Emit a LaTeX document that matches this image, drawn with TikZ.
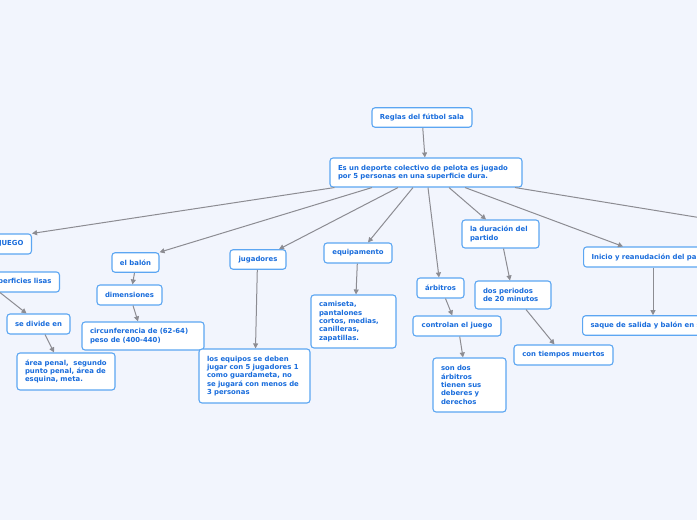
\documentclass[tikz,border=0pt]{standalone}
\usepackage{fontspec}
\setmainfont{DejaVu Sans}
\usetikzlibrary{arrows.meta, positioning}
\definecolor{bgblue} {RGB}{242,245,253}
\definecolor{bordblue}{RGB}{92,166,242}
\definecolor{txtblue} {RGB}{24,108,220}
\definecolor{argray} {RGB}{140,140,146}

\tikzset{
  topic/.style={draw=bordblue, fill=white, rounded corners=3pt, line width=1.1pt,
                text=txtblue, font=\bfseries\fontsize{6.9}{8.3}\selectfont,
                inner xsep=0pt, inner ysep=0pt},
  note/.style={topic, align=left, inner xsep=8pt},
  link/.style={draw=argray, line width=1pt, -{Triangle[length=5pt, width=5pt]}}
}

\begin{document}
\begin{tikzpicture}[x=1pt, y=-1pt]
  \useasboundingbox (0,0) rectangle (697,520);
  \fill[bgblue] (0,0) rectangle (697,520);
  \clip (0,0) rectangle (697,520);

  % root and summary
  \node[topic, minimum width=100, minimum height=19.5] (regla) at (422,117.5) {Reglas del fútbol sala};
  \node[note, text width=176, minimum height=29] (deporte) at (426,172.5)
    {Es un deporte colectivo de pelota es jugado\\por 5 personas en una superficie dura.};

  % left branches
  \node[note, align=right, text width=54, minimum height=20, anchor=east] (juego) at (32,244) {JUEGO};
  \node[note, align=right, text width=80, minimum height=20, anchor=east] (superf) at (60,282) {superficies lisas};
  \node[topic, minimum width=63, minimum height=20] (divide) at (38.5,324) {se divide en};
  \node[note, text width=82, minimum height=37] (area) at (66,371.5)
    {área penal,~ segundo\\punto penal, área de\\esquina, meta.};

  \node[topic, minimum width=47, minimum height=19.5] (balon) at (135.5,262.5) {el balón};
  \node[topic, minimum width=65, minimum height=20] (dimens) at (129.5,295) {dimensiones};
  \node[note, text width=106, minimum height=28] (circunf) at (143,336)
    {circunferencia de (62-64)\\peso de (400-440)};

  \node[topic, minimum width=56, minimum height=19.5] (jugad) at (258,259.5) {jugadores};
  \node[note, text width=95, minimum height=54] (equipos) at (254.5,376)
    {los equipos se deben\\jugar con 5 jugadores 1\\como guardameta, no\\se jugará con menos de\\3 personas};

  \node[topic, minimum width=68, minimum height=20] (equipam) at (358,253) {equipamento};
  \node[note, text width=69, minimum height=53] (camiseta) at (353.5,321.5)
    {camiseta,\\pantalones\\cortos, medias,\\canilleras,\\zapatillas.};

  % right branches
  \node[topic, minimum width=47, minimum height=20] (arbitros) at (440.5,288) {árbitros};
  \node[topic, minimum width=88, minimum height=20] (control) at (457,326) {controlan el juego};
  \node[note, text width=57, minimum height=54] (sondos) at (469.5,385)
    {son dos\\árbitros\\tienen sus\\deberes y\\derechos};

  \node[note, text width=61, minimum height=28] (duracion) at (500.5,234) {la duración del\\partido};
  \node[note, text width=60, minimum height=28] (periodos) at (513,295) {dos periodos\\de 20 minutos};
  \node[topic, minimum width=99, minimum height=20] (tiempos) at (563.5,355) {con tiempos muertos};

  \node[note, minimum height=20, anchor=west] (inicio) at (583,257) {Inicio y reanudación del partido};
  \node[note, minimum height=19.5, anchor=west] (saque) at (582,325.5) {saque de salida y balón en suelo};
  \coordinate (fuera) at (760,227.5);

  % connectors
  \draw[link] (regla) -- (deporte);
  \draw[link] ([xshift=5]deporte.south west) -- (juego.north east);
  \draw[link] ([xshift=-54]deporte.south) -- (balon.north east);
  \draw[link] ([xshift=-28]deporte.south) -- ([xshift=21]jugad.north);
  \draw[link] ([xshift=-13]deporte.south) -- ([xshift=10]equipam.north);
  \draw[link] ([xshift=2]deporte.south) -- ([xshift=-1.5]arbitros.north);
  \draw[link] ([xshift=23]deporte.south) -- ([xshift=-14.5]duracion.north);
  \draw[link] ([xshift=39]deporte.south) -- ([xshift=40]inicio.north west);
  \draw[link] ([xshift=89]deporte.south) -- (fuera);

  \draw[link] ([xshift=-60]superf.south east) -- ([xshift=-12]divide.north);
  \draw[link] ([xshift=6.5]divide.south) -- ([xshift=-12]area.north);
  \draw[link] ([xshift=-1]balon.south) -- ([xshift=3]dimens.north);
  \draw[link] ([xshift=3.5]dimens.south) -- ([xshift=-5]circunf.north);
  \draw[link] ([xshift=-0.7]jugad.south) -- ([xshift=1]equipos.north);
  \draw[link] ([xshift=-0.7]equipam.south) -- ([xshift=2.5]camiseta.north);
  \draw[link] ([xshift=5]arbitros.south) -- ([xshift=-4.7]control.north);
  \draw[link] ([xshift=2.7]control.south) -- ([xshift=-6.5]sondos.north);
  \draw[link] ([xshift=3]duracion.south) -- ([xshift=-3]periodos.north);
  \draw[link] ([xshift=13]periodos.south) -- ([xshift=-9]tiempos.north);
  \draw[link] ([xshift=70]inicio.south west) -- ([xshift=71]saque.north west);
\end{tikzpicture}
\end{document}
